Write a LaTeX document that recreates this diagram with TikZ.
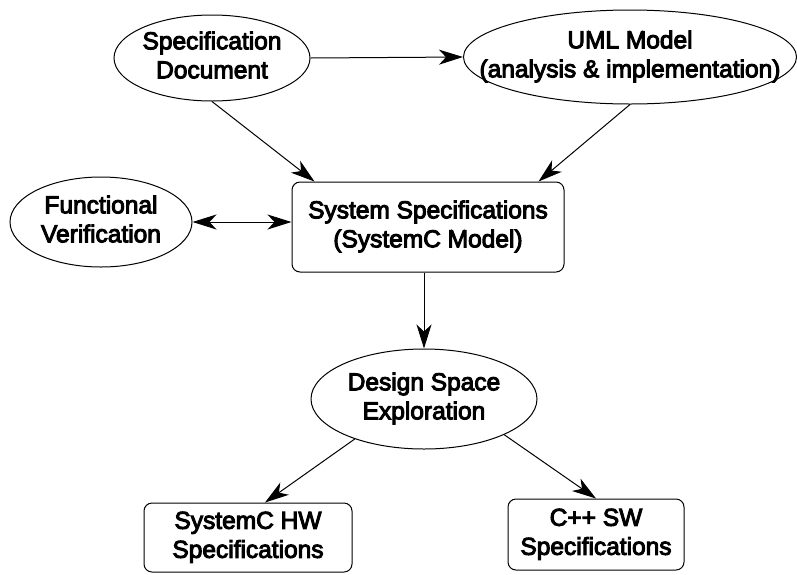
\documentclass[tikz,border=0pt]{standalone}
\usepackage{fontspec}
\setmainfont{Liberation Sans}
\newfontfamily\heavyfont{Liberation Sans}[FakeBold=4]
\usetikzlibrary{shapes.geometric,arrows.meta,calc}
\newcommand{\zwtext}[1]{\makebox[0pt]{\begin{tabular}{@{}c@{}}#1\end{tabular}}}
\begin{document}
\begin{tikzpicture}[x=1pt,y=-1pt,
  every node/.style={font=\heavyfont\fontsize{24.5}{29}\selectfont, align=center, inner sep=0pt},
  oval/.style={draw, ellipse, line width=1pt},
  rbox/.style={draw, rectangle, rounded corners=8pt, line width=1pt},
  conn/.style={line width=1pt, -{Stealth[length=24pt,width=15pt,inset=7pt]}},
  biconn/.style={line width=1pt, {Stealth[length=24pt,width=15pt,inset=7pt]}-{Stealth[length=24pt,width=15pt,inset=7pt]}}]
\useasboundingbox (0,0) rectangle (797,574);
\node[oval, minimum width=196pt, minimum height=86pt] (spec) at (212,58) {\zwtext{Specification\\Document}};
\node[oval, minimum width=333pt, minimum height=94pt] (uml) at (630,57) {\zwtext{UML Model\\(analysis \& implementation)}};
\node[oval, minimum width=182pt, minimum height=90pt] (func) at (101,222) {\zwtext{Functional\\Verification}};
\node[rbox, minimum width=272pt, minimum height=90pt] (sys) at (428,227) {\zwtext{System Specifications\\(SystemC Model)}};
\node[oval, minimum width=226pt, minimum height=100pt] (dse) at (424,399) {\zwtext{Design Space\\Exploration}};
\node[rbox, minimum width=208pt, minimum height=69pt] (hw) at (248,537.5) {\zwtext{SystemC HW\\Specifications}};
\node[rbox, minimum width=176pt, minimum height=71pt] (sw) at (596,534.5) {\zwtext{C++ SW\\Specifications}};
\draw[conn] (spec.east) -- (uml.west);
\draw[conn] (spec.south) -- ($(sys.north west)+(23,0)$);
\draw[conn] (uml.south) -- ($(sys.north east)+(-26,0)$);
\draw[biconn] (func.east) -- (func.east -| sys.west);
\draw[conn] (sys.south -| dse.north) -- (dse.north);
\draw[conn] (dse.210) -- ($(hw.north)+(17,0)$);
\draw[conn] (dse.336) -- (sw.north);
\end{tikzpicture}
\end{document}
